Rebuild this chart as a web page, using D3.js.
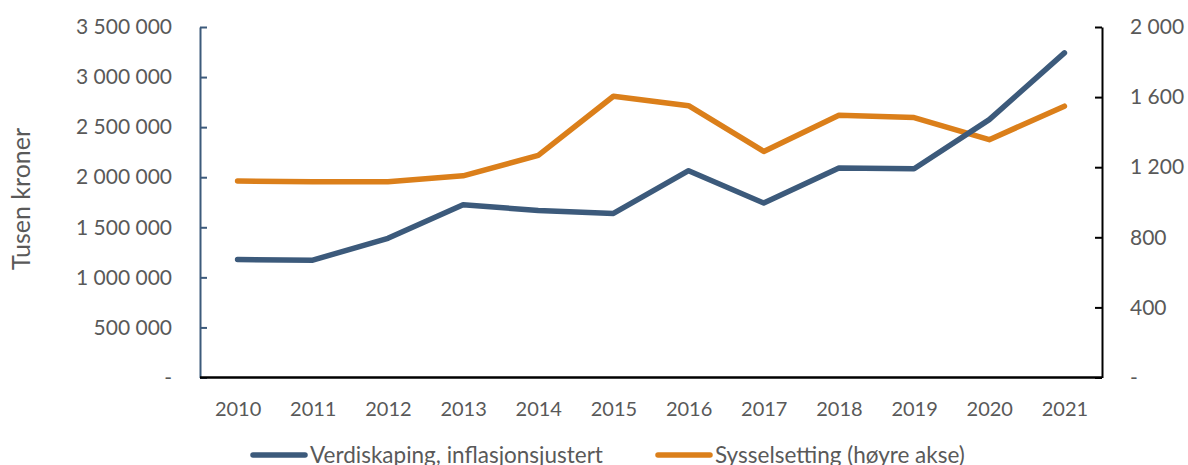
<!DOCTYPE html>
<html>
<head>
<meta charset="utf-8">
<title>Verdiskaping og sysselsetting</title>
<script src="https://d3js.org/d3.v7.min.js"></script>
<style>
  body { margin: 0; background: #fff; }
  svg text { font-family: Lato, 'Noto Sans', sans-serif; fill: #595959; }
</style>
</head>
<body>
<div id="chart"></div>
<script>
// data
var years = ["2010","2011","2012","2013","2014","2015","2016","2017","2018","2019","2020","2021"];
var verdiskaping = [1178000, 1172000, 1390000, 1725000, 1668000, 1638000, 2065000, 1742000, 2092000, 2085000, 2575000, 3242000];
var sysselsetting = [1121, 1117, 1117, 1151, 1267, 1605, 1551, 1290, 1496, 1483, 1357, 1548];
var leftTicks = [0, 500000, 1000000, 1500000, 2000000, 2500000, 3000000, 3500000];
var rightTicks = [0, 400, 800, 1200, 1600, 2000];
var seriesNames = ["Verdiskaping, inflasjonsjustert", "Sysselsetting (høyre akse)"];

var width = 1188, height = 465;
var plotLeft = 200, plotRight = 1102, plotTop = 27, plotBottom = 377.5;
var blue = "#3c5a7b", orange = "#db7f1a";

var svg = d3.select("#chart").append("svg")
  .attr("width", width)
  .attr("height", height);

var x = d3.scalePoint().domain(years).range([plotLeft, plotRight]).padding(0.5);
var yL = d3.scaleLinear().domain([0, 3500000]).range([plotBottom, plotTop]);
var yR = d3.scaleLinear().domain([0, 2000]).range([plotBottom, plotTop]);

// space as thousands separator, "-" for zero
var fmt = function(d) {
  if (d === 0) return "-";
  return d3.format(",")(d).replace(/,/g, " ");
};

// left axis
var gL = svg.append("g").attr("transform", "translate(" + plotLeft + ",0)")
  .call(d3.axisLeft(yL).tickValues(leftTicks).tickFormat(fmt).tickSizeInner(-7).tickSizeOuter(0).tickPadding(28));
gL.select(".domain").attr("stroke", blue).attr("stroke-width", 2);
gL.selectAll(".tick line").attr("stroke", blue).attr("stroke-width", 2);
gL.selectAll(".tick text").style("font-size", "21px");

// right axis
var gR = svg.append("g").attr("transform", "translate(" + plotRight + ",0)")
  .call(d3.axisRight(yR).tickValues(rightTicks).tickFormat(fmt).tickSizeInner(-7).tickSizeOuter(0).tickPadding(28));
gR.select(".domain").attr("stroke", "#000").attr("stroke-width", 2);
gR.selectAll(".tick line").attr("stroke", "#000").attr("stroke-width", 2);
gR.selectAll(".tick text").style("font-size", "21px");

// bottom axis
var gX = svg.append("g").attr("transform", "translate(0," + plotBottom + ")")
  .call(d3.axisBottom(x).tickSize(0).tickPadding(24));
gX.select(".domain").attr("stroke", "#000").attr("stroke-width", 2.5)
  .attr("d", "M" + plotLeft + ",0H" + plotRight);
gX.selectAll(".tick text").style("font-size", "20px");

// y title
svg.append("text")
  .attr("transform", "translate(30,199) rotate(-90)")
  .attr("text-anchor", "middle")
  .style("font-size", "25px")
  .text("Tusen kroner");

var lineL = d3.line().x(function(d, i) { return x(years[i]); }).y(function(d) { return yL(d); });
var lineR = d3.line().x(function(d, i) { return x(years[i]); }).y(function(d) { return yR(d); });

svg.append("path").datum(sysselsetting)
  .attr("d", lineR).attr("fill", "none").attr("stroke", orange)
  .attr("stroke-width", 5.5).attr("stroke-linejoin", "round").attr("stroke-linecap", "round");

svg.append("path").datum(verdiskaping)
  .attr("d", lineL).attr("fill", "none").attr("stroke", blue)
  .attr("stroke-width", 5.5).attr("stroke-linejoin", "round").attr("stroke-linecap", "round");

// legend
var legend = [{ name: seriesNames[0], color: blue, x: 253 }, { name: seriesNames[1], color: orange, x: 658 }];
var lg = svg.selectAll(".legend").data(legend).enter().append("g")
  .attr("transform", function(d) { return "translate(" + d.x + ",455)"; });
lg.append("line").attr("x1", 0).attr("x2", 52).attr("y1", 0).attr("y2", 0)
  .attr("stroke", function(d) { return d.color; }).attr("stroke-width", 5.5).attr("stroke-linecap", "round");
lg.append("text").attr("x", 57).attr("y", 8).style("font-size", "22.5px")
  .text(function(d) { return d.name; });
</script>
</body>
</html>
